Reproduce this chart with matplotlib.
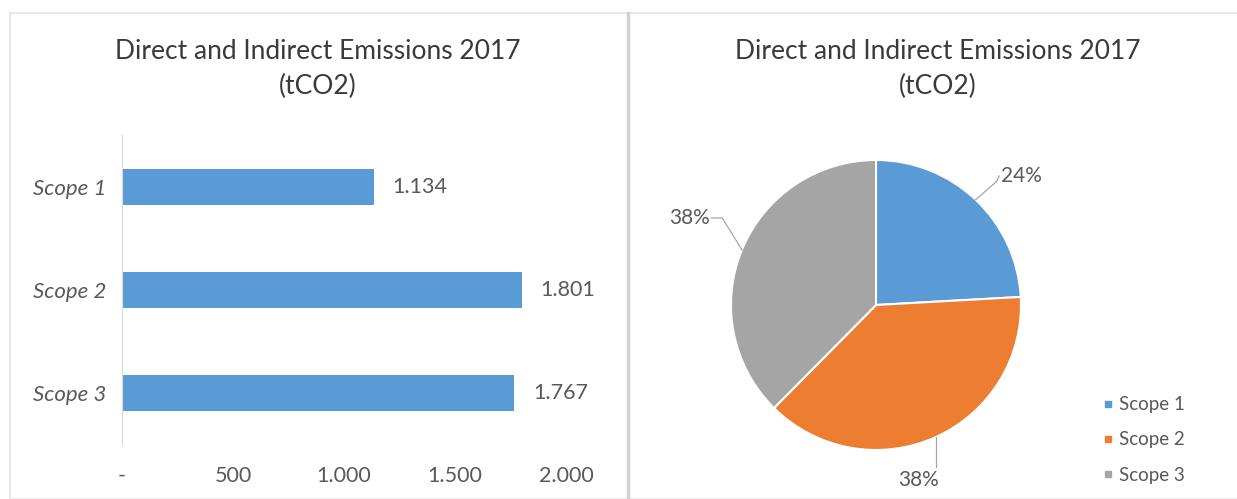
import numpy as np
import matplotlib
matplotlib.use("Agg")
import matplotlib.pyplot as plt
from matplotlib.lines import Line2D


# === data ===
scopes = ["Scope 1", "Scope 2", "Scope 3"]
emissions = [1134, 1801, 1767]
x_ticks = [0, 500, 1000, 1500, 2000]
colors = ["#5B9BD5", "#ED7D31", "#A5A5A5"]
title = "Direct and Indirect Emissions 2017\n(tCO2)"

W, H = 1237, 499
plt.rcParams['font.family'] = ['Lato', 'DejaVu Sans']
TXT = "#595959"


def px_rect(x0, y0, x1, y1):
    # pixel box (top-left origin) -> figure fraction rect
    return [x0 / W, 1 - y1 / H, (x1 - x0) / W, (y1 - y0) / H]


def eu(v):
    # thousands with a dot, zero as dash
    return "-" if v == 0 else f"{v:,}".replace(",", ".")


fig = plt.figure(figsize=(W / 100, H / 100), dpi=100)

# panel frames
frame = fig.add_axes([0, 0, 1, 1])
frame.set_xlim(0, W)
frame.set_ylim(H, 0)
frame.axis("off")
frame.plot([10, 1237], [12.5, 12.5], color="#e3e3e3", lw=1.2)
frame.plot([10, 10], [12.5, 499], color="#e3e3e3", lw=1.2)
frame.plot([10, 1237], [498, 498], color="#eeeeee", lw=1.0)
frame.plot([628, 628], [12.5, 499], color="#d2d2d2", lw=2.5)

# --- bar chart ---
ax = fig.add_axes(px_rect(122, 135, 566, 445))
y = np.arange(len(scopes))
ax.barh(y, emissions, height=0.35, color=colors[0])
ax.set_xlim(0, 2000)
ax.set_ylim(2.5, -0.5)
ax.set_yticks(y)
ax.set_yticklabels(scopes, style="italic", fontsize=16, color=TXT)
ax.set_xticks(x_ticks)
ax.set_xticklabels([eu(v) for v in x_ticks], fontsize=15.5, color=TXT)
ax.tick_params(length=0)
ax.tick_params(axis="x", pad=15)
ax.tick_params(axis="y", pad=11)
for s in ["top", "right", "bottom"]:
    ax.spines[s].set_visible(False)
ax.spines["left"].set_color("#d9d9d9")
for yi, v in zip(y, emissions):
    ax.text(v + 85, yi, eu(v), va="center", ha="left", fontsize=15.5, color=TXT)
fig.text(318 / W, 1 - 69 / H, title, ha="center", va="center",
         fontsize=19, color="#3a3a3a", linespacing=1.5)

# --- pie chart ---
R = 145.0
cx, cy = 876, 305
lim = 1.6
pax = fig.add_axes(px_rect(cx - lim * R, cy - lim * R, cx + lim * R, cy + lim * R))
wedges, _ = pax.pie(emissions, colors=colors, startangle=90, counterclock=False,
                    wedgeprops=dict(edgecolor="white", linewidth=1.5))
pax.set_xlim(-lim, lim)
pax.set_ylim(-lim, lim)
pax.set_aspect("equal")
pax.axis("off")

total = sum(emissions)
# label anchor, elbow and text alignment per slice (pie radius units)
lbl_pos = [(0.86, 0.89), (0.29, -1.14), (-1.145, 0.60)]
elbows = [(0.83, 0.85), None, (-1.06, 0.60)]
aligns = [("left", "center"), ("center", "top"), ("right", "center")]
for w, v, pos, elb, (ha, va) in zip(wedges, emissions, lbl_pos, elbows, aligns):
    ang = np.deg2rad((w.theta1 + w.theta2) / 2)
    ex, ey = np.cos(ang), np.sin(ang)
    if elb is None:
        xs, ys = [ex, ex], [ey, pos[1] + 0.02]
    else:
        xs, ys = [ex, elb[0], pos[0] + (-0.01 if ha == "left" else 0.01)], [ey, elb[1], pos[1]]
    pax.plot(xs, ys, color="#a6a6a6", lw=0.9)
    pax.text(pos[0], pos[1], f"{v / total:.0%}", ha=ha, va=va,
             fontsize=15, color=TXT)

fig.text(938 / W, 1 - 69 / H, title, ha="center", va="center",
         fontsize=19, color="#3a3a3a", linespacing=1.5)

handles = [Line2D([], [], marker="s", ls="", markersize=5, color=c) for c in colors]
fig.legend(handles, scopes, loc="upper left", bbox_to_anchor=(1085 / W, 1 - 383 / H),
           frameon=False, fontsize=13.5, labelcolor=TXT, handletextpad=0.1,
           labelspacing=0.98, handlelength=1.0, borderpad=0.2)

fig.savefig("out.png", dpi=100, facecolor="white")
